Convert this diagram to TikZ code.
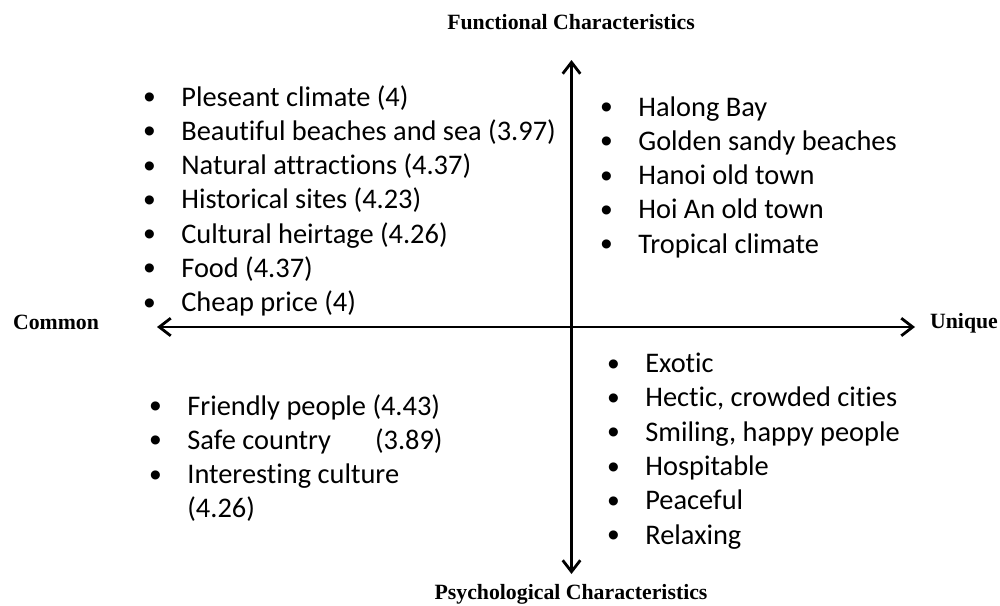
\documentclass[tikz,border=0pt]{standalone}
\usepackage{fontspec}
\setmainfont[Ligatures={NoCommon}]{Carlito}
\newfontfamily\axisfont{Liberation Serif}
\newfontfamily\bulletfont{Liberation Sans}
\usetikzlibrary{arrows.meta}
% one unit of the drawing grid
\newlength\pxu
\setlength\pxu{0.02cm}
% bullet hung to the left of the item text
\newcommand\bul{\makebox[0pt][r]{\makebox[0pt][c]{\raisebox{-1.5pt}{\bulletfont\fontsize{19pt}{19pt}\selectfont\textbullet}}\hspace{32\pxu}}}

\begin{document}
\begin{tikzpicture}[x=0.02cm, y=-0.02cm,
  axis/.style={line width=1.6pt, >={Straight Barb[length=6.5pt,width=10pt]}, <->},
  axislabel/.style={font=\axisfont\bfseries\fontsize{12.4pt}{14pt}\selectfont, inner sep=0, anchor=base},
  itemlist/.style={font=\fontsize{16.16pt}{19.5pt}\selectfont, inner sep=0, anchor=base west}]
\useasboundingbox (0,0) rectangle (1000,605);

% axes
\coordinate (top) at (571.5,60);
\coordinate (bottom) at (571.5,574);
\coordinate (left) at (157,327);
\coordinate (right) at (915,327);
\draw[axis] (bottom) -- (top);
\draw[axis] (left) -- (right);

% axis labels
\node[axislabel] (functional) at (571,29.5) {Functional Characteristics};
\node[axislabel] (psychological) at (571,599) {Psychological Characteristics};
\node[axislabel] (common) at (56,329) {Common};
\node[axislabel] (unique) at (964,328) {Unique};

% common functional
\node[itemlist] (commonfunc) at (181,106) {\begin{tabular}[t]{@{}l@{}}
\bul Pleseant climate (4)\\
\bul Beautiful beaches and sea (3.97)\\
\bul Natural attractions (4.37)\\
\bul Historical sites (4.23)\\
\bul Cultural heirtage (4.26)\\
\bul Food (4.37)\\
\bul Cheap price (4)
\end{tabular}};

% unique functional
\node[itemlist] (uniquefunc) at (638,116) {\begin{tabular}[t]{@{}l@{}}
\bul Halong Bay\\
\bul Golden sandy beaches\\
\bul Hanoi old town\\
\bul Hoi An old town\\
\bul Tropical climate
\end{tabular}};

% common psychological
\node[itemlist] (commonpsych) at (187,415) {\begin{tabular}[t]{@{}l@{}}
\bul Friendly people (4.43)\\
\bul Safe country\hspace{44\pxu}(3.89)\\
\bul Interesting culture\\
(4.26)
\end{tabular}};

% unique psychological
\node[itemlist] (uniquepsych) at (645,372.7) {\begin{tabular}[t]{@{}l@{}}
\bul Exotic\\
\bul Hectic, crowded cities\\
\bul Smiling, happy people\\
\bul Hospitable\\
\bul Peaceful\\
\bul Relaxing
\end{tabular}};
\end{tikzpicture}
\end{document}
